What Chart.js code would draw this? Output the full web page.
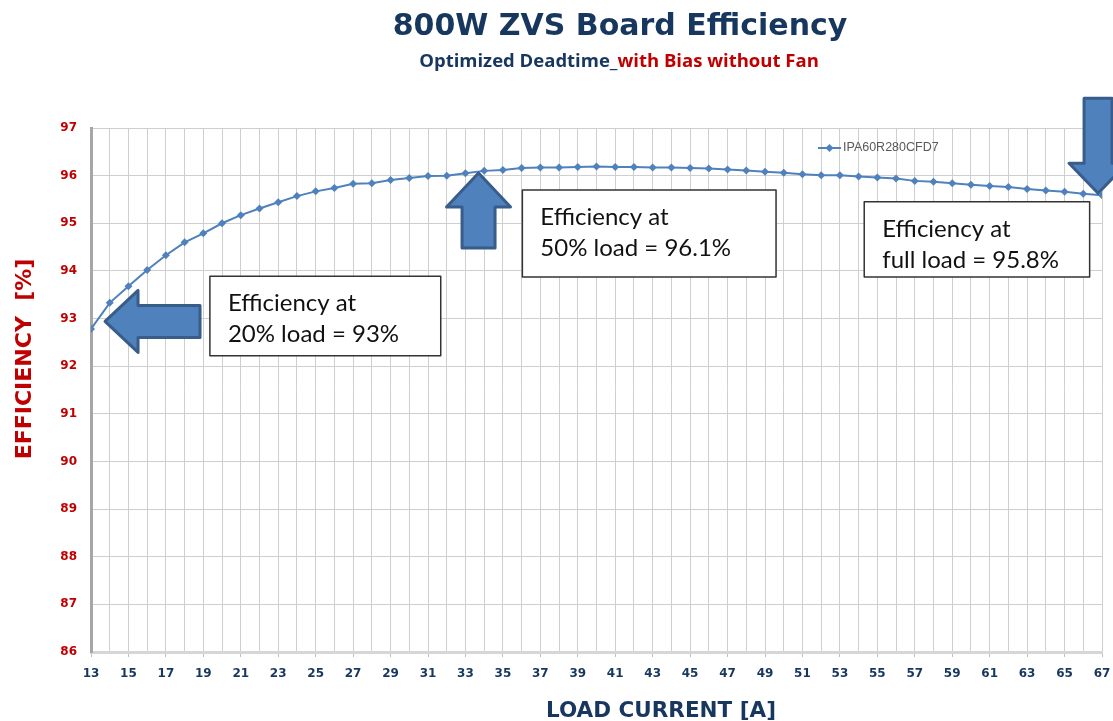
<!DOCTYPE html>
<html>
<head>
<meta charset="utf-8">
<script src="https://cdn.jsdelivr.net/npm/chart.js@4.4.1/dist/chart.umd.min.js"></script>
<style>
  html, body { margin: 0; padding: 0; background: #fff; }
  #wrap { width: 1113px; height: 721px; position: relative; }
</style>
</head>
<body>
<div id="wrap"><canvas id="effChart" width="1113" height="721"></canvas></div>
<script>
/* ── Data ───────────────────────────────────────────────────────────── */
const seriesName  = 'IPA60R280CFD7';
const loadCurrent = [13, 14, 15, 16, 17, 18, 19, 20, 21, 22, 23, 24, 25, 26, 27, 28, 29, 30, 31, 32,
                     33, 34, 35, 36, 37, 38, 39, 40, 41, 42, 43, 44, 45, 46, 47, 48, 49, 50, 51, 52,
                     53, 54, 55, 56, 57, 58, 59, 60, 61, 62, 63, 64, 65, 66, 67];
const efficiency  = [92.78, 93.33, 93.68, 94.02, 94.33, 94.60, 94.79, 95.00, 95.17, 95.31,
                     95.44, 95.57, 95.67, 95.74, 95.83, 95.84, 95.91, 95.95, 95.99, 96.00,
                     96.05, 96.10, 96.12, 96.16, 96.17, 96.17, 96.18, 96.19, 96.18, 96.18,
                     96.17, 96.17, 96.16, 96.15, 96.13, 96.11, 96.08, 96.06, 96.03, 96.01,
                     96.01, 95.98, 95.96, 95.94, 95.89, 95.87, 95.84, 95.81, 95.78, 95.76,
                     95.72, 95.69, 95.66, 95.62, 95.59];
const xTickLabels = [13, 15, 17, 19, 21, 23, 25, 27, 29, 31, 33, 35, 37, 39, 41, 43, 45, 47, 49,
                     51, 53, 55, 57, 59, 61, 63, 65, 67];
const yTicks      = [86, 87, 88, 89, 90, 91, 92, 93, 94, 95, 96, 97];

/* ── Callouts (anchored in data units) ──────────────────────────────── */
const callouts = [
  { lines: ['Efficiency at', '20% load = 93%'],   x0: 19.35, x1: 31.68, y0: 93.89, y1: 92.22 },
  { lines: ['Efficiency at', '50% load = 96.1%'], x0: 36.04, x1: 49.59, y0: 95.70, y1: 93.87 },
  { lines: ['Efficiency at', 'full load = 95.8%'], x0: 54.30, x1: 66.34, y0: 95.45, y1: 93.87 },
];
// tip in data units, sizes in px
const arrows = [
  { x: 13.75, y: 92.94, dir: [-1, 0], len: 95, head: 33, headHalf: 31, shaftHalf: 16 },
  { x: 33.70, y: 96.055, dir: [0, -1], len: 75, head: 34, headHalf: 32, shaftHalf: 16.5 },
  { x: 66.79, y: 95.63, dir: [0, 1],  len: 95, head: 30, headHalf: 29, shaftHalf: 14 },
];

const NAVY = '#17375e';
const RED  = '#c00000';
const BLUE = '#4f81bd';

function drawArrow(ctx, tx, ty, a) {
  const [dx, dy] = a.dir;
  const nx = -dy, ny = dx;
  const hx = tx - dx * a.head, hy = ty - dy * a.head;
  const bx = tx - dx * a.len,  by = ty - dy * a.len;
  ctx.beginPath();
  ctx.moveTo(tx, ty);
  ctx.lineTo(hx + nx * a.headHalf,  hy + ny * a.headHalf);
  ctx.lineTo(hx + nx * a.shaftHalf, hy + ny * a.shaftHalf);
  ctx.lineTo(bx + nx * a.shaftHalf, by + ny * a.shaftHalf);
  ctx.lineTo(bx - nx * a.shaftHalf, by - ny * a.shaftHalf);
  ctx.lineTo(hx - nx * a.shaftHalf, hy - ny * a.shaftHalf);
  ctx.lineTo(hx - nx * a.headHalf,  hy - ny * a.headHalf);
  ctx.closePath();
  ctx.fillStyle = BLUE;
  ctx.fill();
  ctx.lineJoin = 'round';
  ctx.lineWidth = 3;
  ctx.strokeStyle = '#385d8a';
  ctx.stroke();
}

const decor = {
  id: 'decor',
  afterDatasetsDraw(chart) {
    const { ctx, scales: { x, y } } = chart;
    ctx.save();
    arrows.forEach(a => drawArrow(ctx, x.getPixelForValue(a.x), y.getPixelForValue(a.y), a));

    callouts.forEach(c => {
      const l = x.getPixelForValue(c.x0), r = x.getPixelForValue(c.x1);
      const t = y.getPixelForValue(c.y0), b = y.getPixelForValue(c.y1);
      ctx.fillStyle = '#fff';
      ctx.fillRect(l, t, r - l, b - t);
      ctx.lineWidth = 1.5;
      ctx.strokeStyle = '#333';
      ctx.strokeRect(l, t, r - l, b - t);
      ctx.fillStyle = '#111';
      ctx.font = '24px Lato';
      ctx.textAlign = 'left';
      ctx.textBaseline = 'middle';
      ctx.fillText(c.lines[0], l + 18, t + 27);
      ctx.fillText(c.lines[1], l + 18, t + 58);
    });

    // legend inside plot
    const ly = 148;
    ctx.strokeStyle = BLUE;
    ctx.lineWidth = 2;
    ctx.beginPath(); ctx.moveTo(818, ly); ctx.lineTo(841, ly); ctx.stroke();
    ctx.fillStyle = BLUE;
    ctx.beginPath();
    ctx.moveTo(829.5, ly - 4); ctx.lineTo(833.5, ly); ctx.lineTo(829.5, ly + 4); ctx.lineTo(825.5, ly);
    ctx.closePath(); ctx.fill();
    ctx.fillStyle = '#595959';
    ctx.font = '12.5px "Liberation Sans"';
    ctx.textBaseline = 'middle';
    ctx.fillText(seriesName, 843, ly);
    ctx.restore();
  },
  afterDraw(chart) {
    const ctx = chart.ctx;
    ctx.save();
    ctx.textBaseline = 'alphabetic';
    ctx.textAlign = 'center';

    // main title
    ctx.fillStyle = NAVY;
    ctx.font = 'bold 30px "DejaVu Sans"';
    ctx.fillText('800W ZVS Board Efficiency', 620, 35);

    // two-colour subtitle
    const p1 = 'Optimized Deadtime_', p2 = 'with Bias without Fan';
    ctx.font = 'bold 18.5px "Open Sans"';
    const w1 = ctx.measureText(p1).width, w2 = ctx.measureText(p2).width;
    const sx = 619 - (w1 + w2) / 2;
    ctx.textAlign = 'left';
    ctx.fillText(p1, sx, 67);
    ctx.fillStyle = RED;
    ctx.fillText(p2, sx + w1, 67);

    // x axis title
    ctx.textAlign = 'center';
    ctx.fillStyle = NAVY;
    ctx.font = 'bold 21.5px "DejaVu Sans"';
    ctx.fillText('LOAD CURRENT [A]', 661, 717);

    // y axis title
    ctx.fillStyle = RED;
    ctx.font = 'bold 22px "DejaVu Sans"';
    ctx.translate(31, 359);
    ctx.rotate(-Math.PI / 2);
    ctx.fillText('EFFICIENCY  [%]', 0, 0);
    ctx.restore();
  }
};

new Chart(document.getElementById('effChart').getContext('2d'), {
  type: 'line',
  data: {
    datasets: [{
      label: seriesName,
      data: loadCurrent.map((v, i) => ({ x: v, y: efficiency[i] })),
      borderColor: BLUE,
      backgroundColor: BLUE,
      borderWidth: 2,
      pointStyle: 'rectRot',
      pointRadius: 4,
      pointBorderWidth: 0,
      tension: 0,
    }]
  },
  options: {
    responsive: false,
    animation: false,
    layout: { padding: { top: 128, left: 0, right: 11, bottom: 0 } },
    plugins: { legend: { display: false }, tooltip: { enabled: false } },
    scales: {
      x: {
        type: 'linear',
        min: loadCurrent[0], max: loadCurrent[loadCurrent.length - 1],
        afterBuildTicks: s => { s.ticks = loadCurrent.map(v => ({ value: v })); },
        afterFit: s => { s.height = 69; s.paddingRight = 0; s.paddingLeft = 0; },
        ticks: {
          autoSkip: false, maxRotation: 0, padding: 10,
          color: NAVY, font: { family: 'DejaVu Sans', weight: 'bold', size: 12 },
          callback: v => xTickLabels.includes(v) ? String(v) : ''
        },
        grid: {
          color: '#cfcfcf', tickLength: 5,
          tickColor: c => xTickLabels.includes(c.tick && c.tick.value) ? '#bfbfbf' : 'rgba(0,0,0,0)'
        },
        border: { color: '#d6d6d6', width: 3 }
      },
      y: {
        min: yTicks[0], max: yTicks[yTicks.length - 1],
        afterBuildTicks: s => { s.ticks = yTicks.map(v => ({ value: v })); },
        afterFit: s => { s.width = 91; },
        ticks: {
          padding: 14, color: RED,
          font: { family: 'DejaVu Sans', weight: 'bold', size: 12 }
        },
        grid: { color: '#cfcfcf', drawTicks: false },
        border: { color: '#a6a6a6', width: 3 }
      }
    }
  },
  plugins: [decor]
});
</script>
</body>
</html>
